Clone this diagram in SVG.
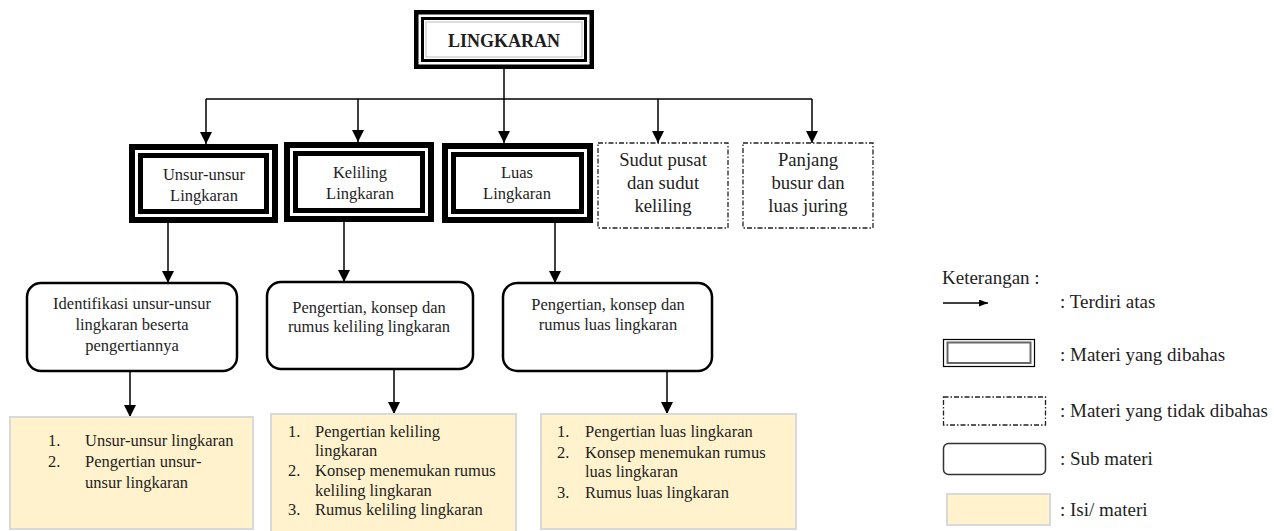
<svg xmlns="http://www.w3.org/2000/svg" width="1274" height="531" viewBox="0 0 1274 531" font-family="'Liberation Serif', serif">
<defs>
<style>
text{font-family:'Liberation Serif',serif;fill:#1e1e1e}
.t{font-size:16.5px;text-anchor:middle}
.td{font-size:18.7px;text-anchor:middle}
.l{font-size:16.5px}
.lg{font-size:19px}
.ob{fill:#fff;stroke:#000;stroke-width:6}
.ib{fill:#fff;stroke:#000;stroke-width:5}
.dash{fill:#fff;stroke:#222;stroke-width:1.3;stroke-dasharray:5 2 1.5 2}
.sub{fill:#fff;stroke:#000;stroke-width:2.5}
.isi{fill:#FFF2CC;stroke:#D9D9D9;stroke-width:2}
.c{fill:none;stroke:#000;stroke-width:1.5}
</style>
<marker id="ah" markerUnits="userSpaceOnUse" markerWidth="12" markerHeight="12" viewBox="0 0 12 12" refX="12" refY="6" orient="auto">
<path d="M0,0 L12,6 L0,12 z" fill="#000"/>
</marker>
<marker id="ahs" markerUnits="userSpaceOnUse" markerWidth="9" markerHeight="7" viewBox="0 0 9 7" refX="9" refY="3.5" orient="auto">
<path d="M0,0 L9,3.5 L0,7 z" fill="#000"/>
</marker>
</defs>
<rect width="1274" height="531" fill="#fff"/>

<g id="connectors">
<path class="c" d="M504,69 V99"/>
<path class="c" d="M206,99 H812"/>
<path class="c" d="M206,99 V144" marker-end="url(#ah)"/>
<path class="c" d="M358,99 V142" marker-end="url(#ah)"/>
<path class="c" d="M504,99 V143" marker-end="url(#ah)"/>
<path class="c" d="M658,99 V143" marker-end="url(#ah)"/>
<path class="c" d="M812,99 V143" marker-end="url(#ah)"/>
<path class="c" d="M168,223 V283" marker-end="url(#ah)"/>
<path class="c" d="M344,222 V282" marker-end="url(#ah)"/>
<path class="c" d="M555,223 V283" marker-end="url(#ah)"/>
<path class="c" d="M130,371 V417" marker-end="url(#ah)"/>
<path class="c" d="M394,369 V414" marker-end="url(#ah)"/>
<path class="c" d="M667,371 V414" marker-end="url(#ah)"/>
</g>

<g id="lingkaran">
<rect x="416.25" y="12.25" width="175.5" height="54.5" fill="#fff" stroke="#000" stroke-width="4.5"/>
<rect x="422.5" y="18.5" width="163" height="42" fill="#fff" stroke="#000" stroke-width="3"/>
<rect x="426" y="22" width="156" height="35" fill="none" stroke="#aaa" stroke-width="0.8"/>
<text x="504" y="47" text-anchor="middle" font-size="18" font-weight="bold">LINGKARAN</text>
</g>

<g id="unsur">
<rect class="ob" x="132" y="147" width="143" height="73"/>
<rect class="ib" x="140.5" y="155.5" width="126" height="56"/>
<text class="t" x="204" y="180">Unsur-unsur</text>
<text class="t" x="204" y="201">Lingkaran</text>
</g>

<g id="keliling">
<rect class="ob" x="287" y="145" width="144" height="74"/>
<rect class="ib" x="295.5" y="153.5" width="127" height="57"/>
<text class="t" x="360" y="178">Keliling</text>
<text class="t" x="360" y="199">Lingkaran</text>
</g>

<g id="luas">
<rect class="ob" x="445" y="146" width="145" height="74"/>
<rect class="ib" x="453.5" y="154.5" width="128" height="57"/>
<text class="t" x="517" y="178">Luas</text>
<text class="t" x="517" y="199">Lingkaran</text>
</g>

<g id="sudut">
<rect class="dash" x="598" y="143" width="130" height="85"/>
<text class="td" x="663" y="166">Sudut pusat</text>
<text class="td" x="663" y="189">dan sudut</text>
<text class="td" x="663" y="212">keliling</text>
</g>

<g id="panjang">
<rect class="dash" x="743" y="143" width="130" height="85"/>
<text class="td" x="808" y="166">Panjang</text>
<text class="td" x="808" y="189">busur dan</text>
<text class="td" x="808" y="212">luas juring</text>
</g>

<g id="sub-unsur">
<rect class="sub" x="27" y="283" width="210" height="88" rx="14"/>
<text class="t" x="132" y="309">Identifikasi unsur-unsur</text>
<text class="t" x="132" y="330">lingkaran beserta</text>
<text class="t" x="132" y="351">pengertiannya</text>
</g>

<g id="sub-keliling">
<rect class="sub" x="267" y="282" width="206" height="87" rx="14"/>
<text class="t" x="369" y="313">Pengertian, konsep dan</text>
<text class="t" x="369" y="332">rumus keliling lingkaran</text>
</g>

<g id="sub-luas">
<rect class="sub" x="503" y="283" width="209" height="88" rx="14"/>
<text class="t" x="608" y="310">Pengertian, konsep dan</text>
<text class="t" x="608" y="330">rumus luas lingkaran</text>
</g>

<g id="isi-unsur">
<rect class="isi" x="10" y="417" width="243" height="112"/>
<text class="l" x="48" y="446">1.</text>
<text class="l" x="85" y="446">Unsur-unsur lingkaran</text>
<text class="l" x="48" y="467">2.</text>
<text class="l" x="85" y="467">Pengertian unsur-</text>
<text class="l" x="85" y="488">unsur lingkaran</text>
</g>

<g id="isi-keliling">
<rect class="isi" x="271" y="414" width="245" height="125"/>
<text class="l" x="288" y="437">1.</text>
<text class="l" x="315" y="437">Pengertian keliling</text>
<text class="l" x="315" y="456">lingkaran</text>
<text class="l" x="288" y="476">2.</text>
<text class="l" x="315" y="476">Konsep menemukan rumus</text>
<text class="l" x="315" y="496">keliling lingkaran</text>
<text class="l" x="288" y="515">3.</text>
<text class="l" x="315" y="515">Rumus keliling lingkaran</text>
</g>

<g id="isi-luas">
<rect class="isi" x="541" y="414" width="255" height="115"/>
<text class="l" x="557" y="437">1.</text>
<text class="l" x="585" y="437">Pengertian luas lingkaran</text>
<text class="l" x="557" y="458">2.</text>
<text class="l" x="585" y="458">Konsep menemukan rumus</text>
<text class="l" x="585" y="477">luas lingkaran</text>
<text class="l" x="557" y="498">3.</text>
<text class="l" x="585" y="498">Rumus luas lingkaran</text>
</g>

<g id="legend">
<text class="lg" x="942" y="284">Keterangan :</text>
<path d="M943,303 H988" stroke="#000" stroke-width="1.5" marker-end="url(#ahs)"/>
<text class="lg" x="1060" y="308">: Terdiri atas</text>
<rect x="943.5" y="339.5" width="91" height="27" fill="#fff" stroke="#000" stroke-width="1.2"/>
<rect x="947.5" y="342.5" width="83" height="20.5" fill="#fff" stroke="#666" stroke-width="2"/>
<text class="lg" x="1060" y="361">: Materi yang dibahas</text>
<rect class="dash" x="943.5" y="397" width="102" height="28"/>
<text class="lg" x="1060" y="417">: Materi yang tidak dibahas</text>
<rect x="943.5" y="443.5" width="102" height="31" rx="5" fill="#fff" stroke="#333" stroke-width="1.5"/>
<text class="lg" x="1060" y="465">: Sub materi</text>
<rect class="isi" x="947" y="494" width="103" height="31"/>
<text class="lg" x="1060" y="516">: Isi/ materi</text>
</g>
</svg>
